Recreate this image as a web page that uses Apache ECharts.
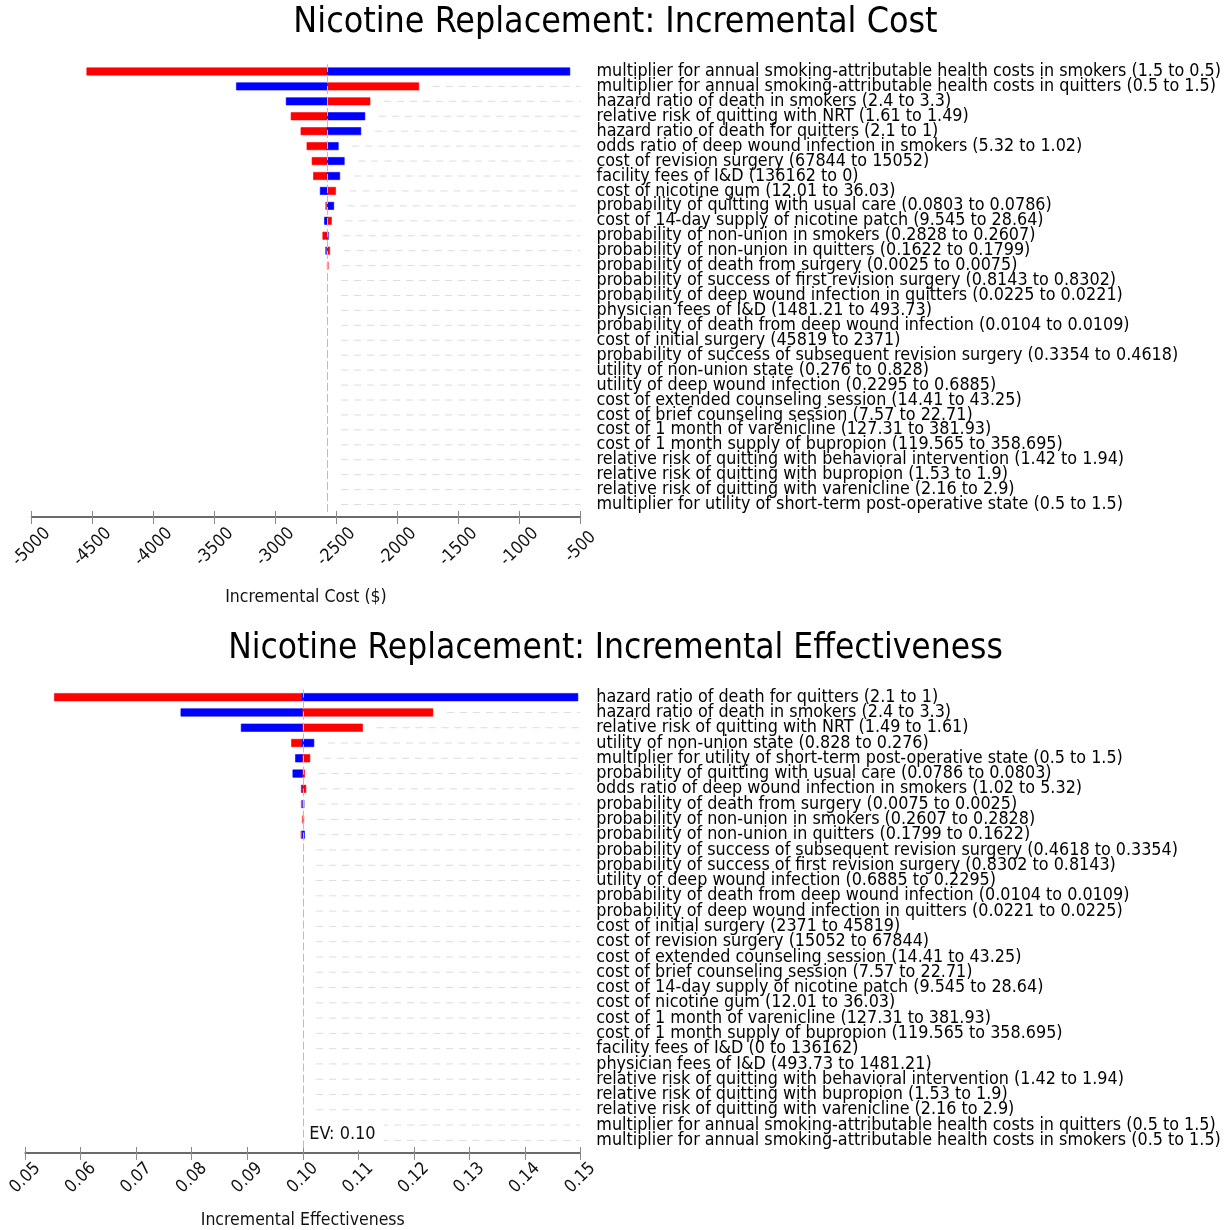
<!DOCTYPE html>
<html>
<head>
<meta charset="utf-8">
<script src="https://cdn.jsdelivr.net/npm/echarts@6/dist/echarts.min.js"></script>
<style>
html,body{margin:0;padding:0;background:#fff;}
#chart{width:1231px;height:1230px;}
</style>
</head>
<body>
<div id="chart"></div>
<script>
// ---------- Data: Incremental Cost ----------
const costTitle = 'Nicotine Replacement: Incremental Cost';
const costAxisName = 'Incremental Cost ($)';
const costEV = -2576;
const costTicks = { min: -5000, max: -500, interval: 500 };
const costCategories = [
  'multiplier for annual smoking-attributable health costs in smokers (1.5 to 0.5)',
  'multiplier for annual smoking-attributable health costs in quitters (0.5 to 1.5)',
  'hazard ratio of death in smokers (2.4 to 3.3)',
  'relative risk of quitting with NRT (1.61 to 1.49)',
  'hazard ratio of death for quitters (2.1 to 1)',
  'odds ratio of deep wound infection in smokers (5.32 to 1.02)',
  'cost of revision surgery (67844 to 15052)',
  'facility fees of I&D (136162 to 0)',
  'cost of nicotine gum (12.01 to 36.03)',
  'probability of quitting with usual care (0.0803 to 0.0786)',
  'cost of 14-day supply of nicotine patch (9.545 to 28.64)',
  'probability of non-union in smokers (0.2828 to 0.2607)',
  'probability of non-union in quitters (0.1622 to 0.1799)',
  'probability of death from surgery (0.0025 to 0.0075)',
  'probability of success of first revision surgery (0.8143 to 0.8302)',
  'probability of deep wound infection in quitters (0.0225 to 0.0221)',
  'physician fees of I&D (1481.21 to 493.73)',
  'probability of death from deep wound infection (0.0104 to 0.0109)',
  'cost of initial surgery (45819 to 2371)',
  'probability of success of subsequent revision surgery (0.3354 to 0.4618)',
  'utility of non-union state (0.276 to 0.828)',
  'utility of deep wound infection (0.2295 to 0.6885)',
  'cost of extended counseling session (14.41 to 43.25)',
  'cost of brief counseling session (7.57 to 22.71)',
  'cost of 1 month of varenicline (127.31 to 381.93)',
  'cost of 1 month supply of bupropion (119.565 to 358.695)',
  'relative risk of quitting with behavioral intervention (1.42 to 1.94)',
  'relative risk of quitting with bupropion (1.53 to 1.9)',
  'relative risk of quitting with varenicline (2.16 to 2.9)',
  'multiplier for utility of short-term post-operative state (0.5 to 1.5)'
];
const costRed = [-4546, -1825, -2225, -2872, -2791, -2742, -2700, -2688, -2507, -2590,
  -2541, -2612, -2555, -2566, -2576, -2576, -2576, -2576, -2576, -2576,
  -2576, -2576, -2576, -2576, -2576, -2576, -2576, -2576, -2576, -2576];
const costBlue = [-587, -3320, -2912, -2267, -2300, -2485, -2436, -2473, -2633, -2522,
  -2598, -2563, -2590, -2576, -2576, -2576, -2576, -2576, -2576, -2576,
  -2576, -2576, -2576, -2576, -2576, -2576, -2576, -2576, -2576, -2576];

// ---------- Data: Incremental Effectiveness ----------
const effTitle = 'Nicotine Replacement: Incremental Effectiveness';
const effAxisName = 'Incremental Effectiveness';
const effEV = 0.0999;
const effEVLabel = 'EV: 0.10';
const effTicks = { min: 0.05, max: 0.15, interval: 0.01 };
const effCategories = [
  'hazard ratio of death for quitters (2.1 to 1)',
  'hazard ratio of death in smokers (2.4 to 3.3)',
  'relative risk of quitting with NRT (1.49 to 1.61)',
  'utility of non-union state (0.828 to 0.276)',
  'multiplier for utility of short-term post-operative state (0.5 to 1.5)',
  'probability of quitting with usual care (0.0786 to 0.0803)',
  'odds ratio of deep wound infection in smokers (1.02 to 5.32)',
  'probability of death from surgery (0.0075 to 0.0025)',
  'probability of non-union in smokers (0.2607 to 0.2828)',
  'probability of non-union in quitters (0.1799 to 0.1622)',
  'probability of success of subsequent revision surgery (0.4618 to 0.3354)',
  'probability of success of first revision surgery (0.8302 to 0.8143)',
  'utility of deep wound infection (0.6885 to 0.2295)',
  'probability of death from deep wound infection (0.0104 to 0.0109)',
  'probability of deep wound infection in quitters (0.0221 to 0.0225)',
  'cost of initial surgery (2371 to 45819)',
  'cost of revision surgery (15052 to 67844)',
  'cost of extended counseling session (14.41 to 43.25)',
  'cost of brief counseling session (7.57 to 22.71)',
  'cost of 14-day supply of nicotine patch (9.545 to 28.64)',
  'cost of nicotine gum (12.01 to 36.03)',
  'cost of 1 month of varenicline (127.31 to 381.93)',
  'cost of 1 month supply of bupropion (119.565 to 358.695)',
  'facility fees of I&D (0 to 136162)',
  'physician fees of I&D (493.73 to 1481.21)',
  'relative risk of quitting with behavioral intervention (1.42 to 1.94)',
  'relative risk of quitting with bupropion (1.53 to 1.9)',
  'relative risk of quitting with varenicline (2.16 to 2.9)',
  'multiplier for annual smoking-attributable health costs in quitters (0.5 to 1.5)',
  'multiplier for annual smoking-attributable health costs in smokers (0.5 to 1.5)'
];
const effRed = [0.05526, 0.12345, 0.11078, 0.09797, 0.10129, 0.10031, 0.10057, 0.09972, 0.10021, 0.09966,
  0.0999, 0.0999, 0.0999, 0.0999, 0.0999, 0.0999, 0.0999, 0.0999, 0.0999, 0.0999,
  0.0999, 0.0999, 0.0999, 0.0999, 0.0999, 0.0999, 0.0999, 0.0999, 0.0999, 0.0999];
const effBlue = [0.14957, 0.07805, 0.08891, 0.10201, 0.09869, 0.09822, 0.09972, 0.10026, 0.0999, 0.10031,
  0.0999, 0.0999, 0.0999, 0.0999, 0.0999, 0.0999, 0.0999, 0.0999, 0.0999, 0.0999,
  0.0999, 0.0999, 0.0999, 0.0999, 0.0999, 0.0999, 0.0999, 0.0999, 0.0999, 0.0999];

// ---------- Rendering ----------
const FONT = '"DejaVu Sans Condensed", "DejaVu Sans", sans-serif';
const RED = '#ff0000', BLUE = '#0000ff';

function makeRender(ev, axisMax, evLabel) {
  return function (params, api) {
    const cat = api.value(0);
    const red = api.value(1);
    const blue = api.value(2);
    const c0 = api.coord([ev, cat]);
    const cr = api.coord([red, cat]);
    const cb = api.coord([blue, cat]);
    const cRight = api.coord([axisMax, cat]);
    const band = api.size([0, 1])[1];
    const h = band * 0.49;
    const y = c0[1] - h / 2;
    const children = [];
    // dashed leader
    const barEnd = Math.max(c0[0], cr[0], cb[0]);
    const start = barEnd + 14;
    if (cRight[0] - start > 4) {
      children.push({
        type: 'line',
        shape: { x1: start, y1: c0[1], x2: cRight[0], y2: c0[1] },
        style: { stroke: '#dcdcdc', lineWidth: 1, lineDash: [7, 6] },
        silent: true
      });
    }
    function bar(cx, color) {
      const x1 = Math.min(cx, c0[0]);
      const w = Math.abs(cx - c0[0]);
      if (w < 0.3) return;
      children.push({
        type: 'rect',
        shape: { x: x1, y: y, width: w, height: h },
        style: { fill: color, stroke: color, lineWidth: 0.6, opacity: w < 2 ? 0.6 : 1 }
      });
    }
    bar(cr[0], RED);
    bar(cb[0], BLUE);
    if (evLabel && params.dataIndex === params.dataInsideLength - 1) {
      children.push({
        type: 'text',
        x: c0[0] + 7,
        y: c0[1] - 6,
        style: {
          text: evLabel, fill: '#111', font: '18px ' + FONT,
          verticalAlign: 'middle', align: 'left',
          backgroundColor: '#fff', padding: [8, 8, 6, 0]
        }
      });
    }
    return { type: 'group', children: children };
  };
}

function buildData(cats, red, blue) {
  return cats.map((c, i) => [i, red[i], blue[i]]);
}

function xAxes(gridIndex, ticks, name, nameGap, labelMargin, fmt) {
  const base = {
    gridIndex: gridIndex, type: 'value', position: 'bottom', offset: 5,
    min: ticks.min, max: ticks.max, interval: ticks.interval,
    splitLine: { show: false }
  };
  return [
    Object.assign({}, base, {
      name: name, nameLocation: 'middle', nameGap: nameGap,
      nameTextStyle: { fontSize: 17.5, fontFamily: FONT, color: '#111' },
      axisLine: { show: true, lineStyle: { color: '#3a3a3a', width: 1.6 } },
      axisTick: { show: true, length: 7, lineStyle: { color: '#8a8a8a', width: 1 } },
      axisLabel: { rotate: 45, fontSize: 17.5, fontFamily: FONT, color: '#111', margin: labelMargin,
        align: 'center', verticalAlign: 'middle', formatter: fmt }
    }),
    Object.assign({}, base, {
      axisLine: { show: false },
      axisTick: { show: true, inside: true, length: 6, lineStyle: { color: '#8a8a8a', width: 1 } },
      axisLabel: { show: false }
    })
  ];
}

function yAxis(gridIndex, cats) {
  return {
    gridIndex: gridIndex, type: 'category', data: cats, inverse: true, position: 'right',
    axisLine: { show: false }, axisTick: { show: false }, splitLine: { show: false },
    axisLabel: { margin: 16, fontSize: 17.8, fontFamily: FONT, color: '#000', interval: 0,
      padding: [3, 0, 0, 0] }
  };
}

function series(xIdx, yIdx, ev, ticks, cats, red, blue, evLabel) {
  return {
    type: 'custom', xAxisIndex: xIdx, yAxisIndex: yIdx,
    renderItem: makeRender(ev, ticks.max, evLabel),
    encode: { x: [1, 2], y: 0 },
    data: buildData(cats, red, blue),
    clip: false,
    silent: true,
    markLine: {
      silent: true, symbol: 'none', label: { show: false },
      lineStyle: { color: '#bdbdbd', type: [8, 3], width: 1 },
      data: [{ xAxis: ev }]
    }
  };
}

const chart = echarts.init(document.getElementById('chart'), null, { renderer: 'canvas' });
chart.setOption({
  animation: false,
  backgroundColor: '#fff',
  title: [
    { text: costTitle, left: 'center', top: 5, padding: 0,
      textStyle: { fontSize: 35.5, fontWeight: 'normal', fontFamily: FONT, color: '#000' } },
    { text: effTitle, left: 'center', top: 631, padding: 0,
      textStyle: { fontSize: 35, fontWeight: 'normal', fontFamily: FONT, color: '#000' } }
  ],
  grid: [
    { left: 31.4, right: 650.5, top: 64, height: 448 },
    { left: 25.2, right: 650.7, top: 689.5, height: 459 }
  ],
  xAxis: [].concat(
    xAxes(0, costTicks, costAxisName, 71.5, 30, v => String(v)),
    xAxes(1, effTicks, effAxisName, 58, 25, v => v.toFixed(2))
  ),
  yAxis: [yAxis(0, costCategories), yAxis(1, effCategories)],
  series: [
    series(0, 0, costEV, costTicks, costCategories, costRed, costBlue, null),
    series(2, 1, effEV, effTicks, effCategories, effRed, effBlue, effEVLabel)
  ]
});
</script>
</body>
</html>
